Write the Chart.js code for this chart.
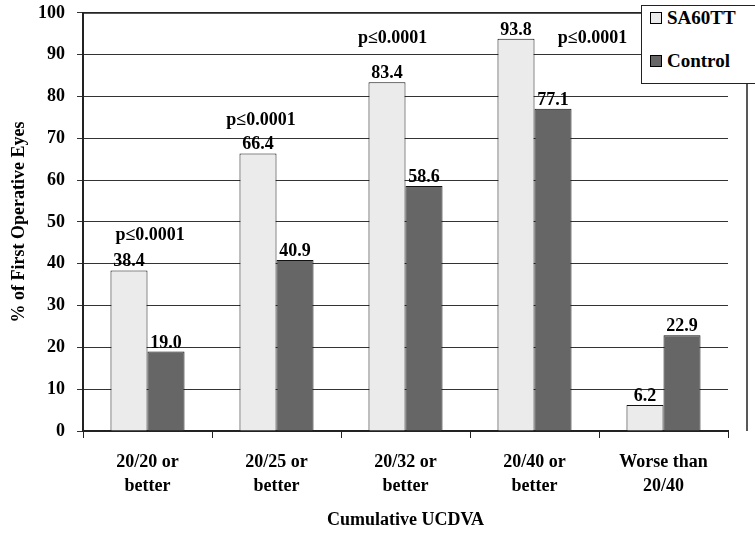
<!DOCTYPE html>
<html>
<head>
<meta charset="utf-8">
<script src="https://cdn.jsdelivr.net/npm/chart.js@4"></script>
<style>
  html, body { margin: 0; padding: 0; background: #fff; }
  #wrap { position: relative; width: 755px; height: 533px; }
  #legend {
    position: absolute; left: 641px; top: 5px; width: 130px; height: 77px;
    border: 1px solid #222; background: #fff;
    font: bold 19px "Liberation Serif", "Times New Roman", serif; color: #000;
  }
  #legend .item { position: absolute; left: 8px; height: 22px; line-height: 22px; white-space: nowrap; }
  #legend .sw { display: inline-block; width: 10px; height: 10px; border: 1px solid #000; margin-right: 5px; vertical-align: 0px; }
</style>
</head>
<body>
<div id="wrap">
  <canvas id="chart" width="755" height="533"></canvas>
  <div id="legend">
    <div class="item" style="top:1px"><span class="sw" style="background:#ebebeb"></span>SA60TT</div>
    <div class="item" style="top:44px"><span class="sw" style="background:#666666"></span>Control</div>
  </div>
</div>
<script>
// datos del gráfico
const categories = [["20/20 or", "better"], ["20/25 or", "better"], ["20/32 or", "better"], ["20/40 or", "better"], ["Worse than", "20/40"]];
const sa60tt = [38.4, 66.4, 83.4, 93.8, 6.2];
const control = [19.0, 40.9, 58.6, 77.1, 22.9];
const yTicks = [0, 10, 20, 30, 40, 50, 60, 70, 80, 90, 100];
const pLabels = ["p\u22640.0001", "p\u22640.0001", "p\u22640.0001", "p\u22640.0001"];

const FONT = '"Liberation Serif", "Times New Roman", serif';

// etiquetas de valor y anotaciones p
const labelsPlugin = {
  id: 'barLabels',
  afterDatasetsDraw(chart) {
    const ctx = chart.ctx;
    ctx.save();
    ctx.font = 'bold 18px ' + FONT;
    ctx.fillStyle = '#000';
    ctx.textAlign = 'center';
    ctx.textBaseline = 'alphabetic';
    chart.data.datasets.forEach((ds, i) => {
      chart.getDatasetMeta(i).data.forEach((bar, j) => {
        ctx.fillText(ds.data[j].toFixed(1), bar.x, bar.y - 4);
      });
    });
    // anotaciones de significancia
    const x = chart.scales.x, y = chart.scales.y;
    const pos = [[0.02, 46.8], [-0.12, 74.2], [-0.1, 94], [0.45, 94]];
    ctx.textBaseline = 'middle';
    pLabels.forEach((t, k) => {
      ctx.fillText(t, x.getPixelForValue(k) + pos[k][0] * (x.getPixelForValue(1) - x.getPixelForValue(0)), y.getPixelForValue(pos[k][1]));
    });
    ctx.restore();
  }
};

// borde del área de trazado
const framePlugin = {
  id: 'frame',
  afterDraw(chart) {
    const a = chart.chartArea, ctx = chart.ctx;
    ctx.save();
    ctx.strokeStyle = '#222';
    ctx.lineWidth = 1.5;
    ctx.beginPath();
    ctx.moveTo(a.left, a.top);
    ctx.lineTo(a.right + 19, a.top);
    ctx.lineTo(a.right + 19, a.bottom);
    ctx.stroke();
    ctx.restore();
  }
};

new Chart(document.getElementById('chart'), {
  type: 'bar',
  data: {
    labels: categories,
    datasets: [
      { label: 'SA60TT', data: sa60tt, backgroundColor: '#ebebeb', borderColor: '#111', borderWidth: 1 },
      { label: 'Control', data: control, backgroundColor: '#666666', borderColor: '#111', borderWidth: 1 }
    ]
  },
  options: {
    responsive: false,
    animation: false,
    layout: { padding: { top: 2, right: 27, bottom: 0, left: 0 } },
    categoryPercentage: 0.574,
    barPercentage: 1.0,
    plugins: { legend: { display: false }, tooltip: { enabled: false } },
    scales: {
      x: {
        grid: { display: true, drawOnChartArea: false, drawTicks: true, tickLength: 7, color: '#222', offset: true },
        border: { color: '#222', width: 2 },
        ticks: { color: '#000', font: { family: FONT, size: 18, weight: 'bold', lineHeight: 1.35 }, padding: 12, maxRotation: 0 },
        title: { display: true, text: 'Cumulative UCDVA', color: '#000', font: { family: FONT, size: 18, weight: 'bold' }, padding: { top: 0, bottom: 2 } },
        afterFit(s) { s.height = 102; }
      },
      y: {
        min: 0, max: 100,
        afterBuildTicks(s) { s.ticks = yTicks.map(v => ({ value: v })); },
        grid: { color: '#333', lineWidth: 1, tickLength: 6 },
        border: { color: '#222', width: 2 },
        ticks: { color: '#000', font: { family: FONT, size: 18, weight: 'bold', lineHeight: 0.1 }, padding: 12 },
        title: { display: true, text: '% of First Operative Eyes', color: '#000', font: { family: FONT, size: 18, weight: 'bold' }, padding: { top: 9, bottom: 0 } },
        afterFit(s) { s.width = 83; }
      }
    }
  },
  plugins: [labelsPlugin, framePlugin]
});
</script>
</body>
</html>
